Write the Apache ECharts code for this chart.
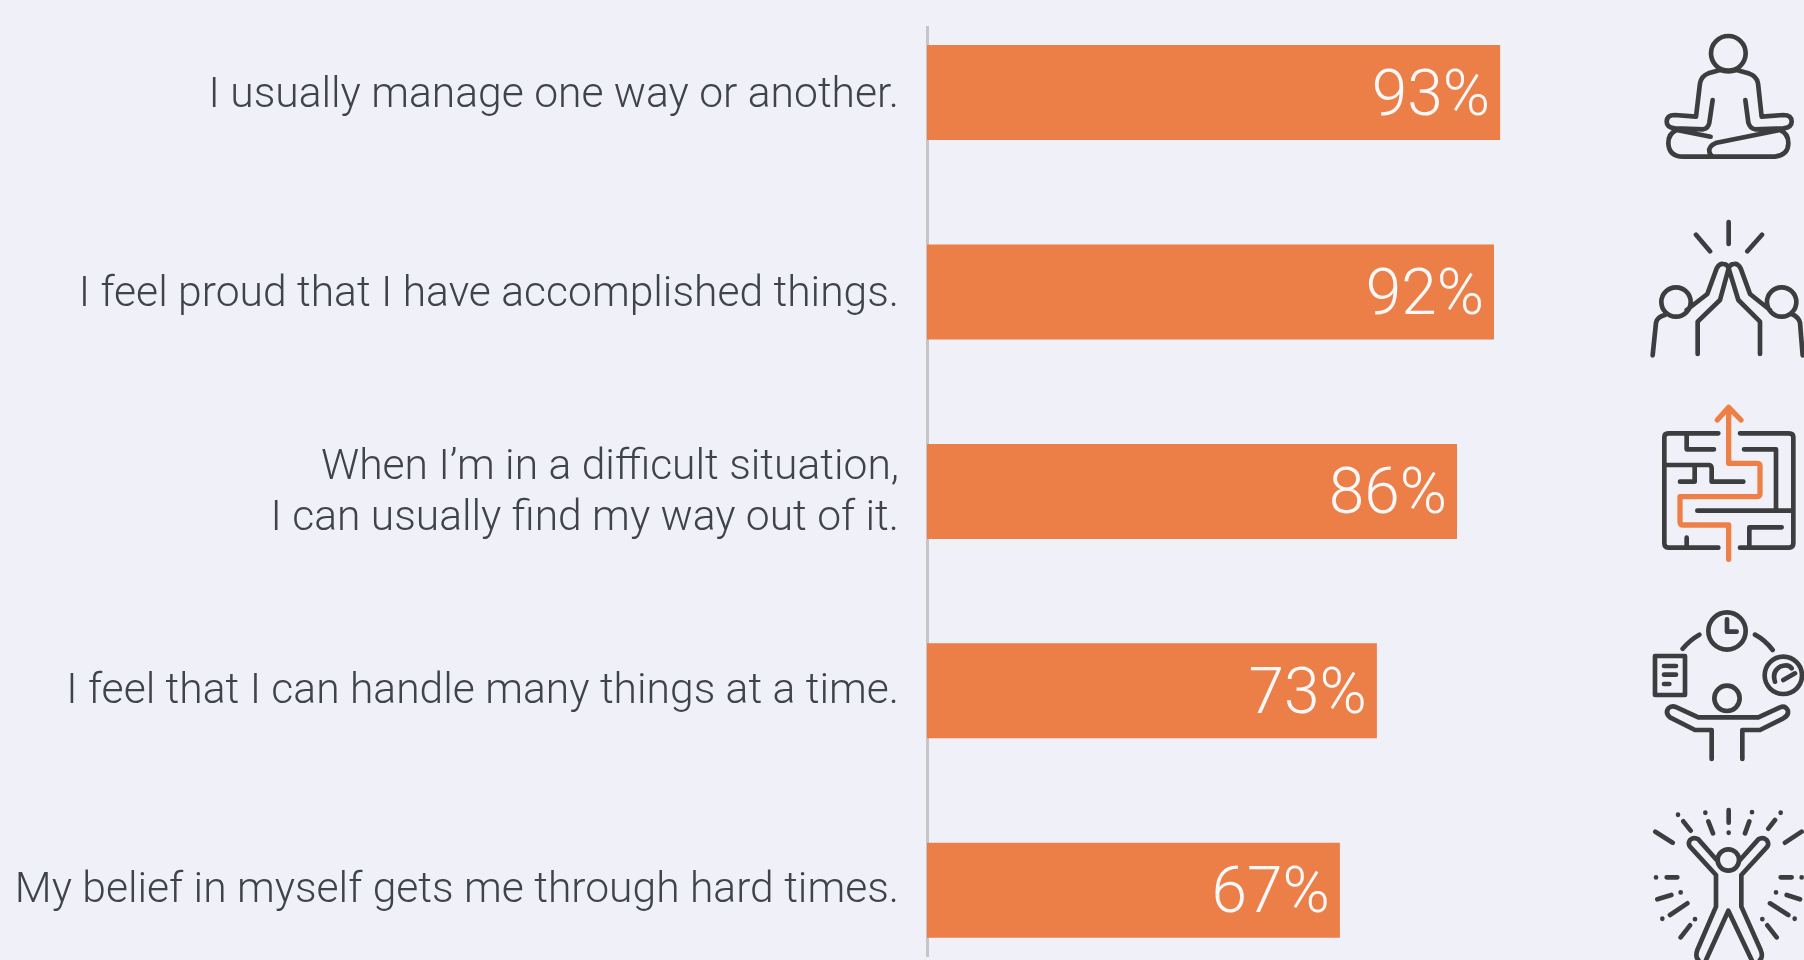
<!DOCTYPE html>
<html>
<head>
<meta charset="utf-8">
<style>
  html, body { margin: 0; padding: 0; background: #eff0f8; }
  #chart { width: 1804px; height: 960px; }
</style>
<script src="https://cdn.jsdelivr.net/npm/echarts@6/dist/echarts.min.js"></script>
</head>
<body>
<div id="chart"></div>
<script>
const categories = [
  'I usually manage one way or another.',
  'I feel proud that I have accomplished things.',
  'When I\u2019m in a difficult situation,\nI can usually find my way out of it.',
  'I feel that I can handle many things at a time.',
  'My belief in myself gets me through hard times.'
];
const values = [93, 92, 86, 73, 67];

const DARK = '#3c3d3f';
const ORANGE = '#ee8047';

// circle helper for the icon paths
const ring = (cx, cy, r) => `M${cx + r} ${cy}A${r} ${r} 0 1 1 ${cx - r} ${cy}A${r} ${r} 0 1 1 ${cx + r} ${cy}`;
const dot = (x, y) => `M${x} ${y}L${x} ${y + 0.5}`;

// icons: path, colour, left/top of the trace
const icons = [
  { x: 1620, y: 0, color: DARK, d: ring(325, 160, 52) +
    'M228 350L240 250Q244 228 265 220L300 210Q325 218 350 210L385 220Q410 228 414 250L425 350' +
    'M228 350L165 345Q140 345 140 365Q140 382 165 385L250 388Q265 385 268 368L278 300' +
    'M425 350L490 345Q515 345 515 365Q515 382 490 385L405 388Q390 385 385 368L376 300' +
    'M170 390Q145 400 145 430Q147 470 190 470L465 470Q505 465 505 430Q505 400 480 390L290 428Q265 438 268 455Q270 468 280 470' +
    'M170 390L272 410' },
  { x: 1620, y: 190, color: DARK, d: ring(168, 336, 44) + ring(485, 336, 44) +
    'M326 96L326 162M228 134L270 184M426 134L382 184' +
    'M98 496L108 398Q112 380 135 375' +
    'M200 360L262 312L290 235Q298 220 310 222Q322 222 326 235L300 330L233 395L233 492' +
    'M548 496L540 398Q535 380 515 372' +
    'M450 360L390 312L362 235Q354 220 342 222Q330 222 326 235L355 330L420 395L420 492' },
  { x: 1620, y: 380, color: DARK, d:
    'M295 160L145 160Q133 160 133 172L133 490Q133 503 145 503L295 503' +
    'M360 160L507 160Q520 160 520 172L520 490Q520 503 507 503L360 503' +
    'M200 165L200 208L282 208M372 208L468 208L468 390' +
    'M135 255L265 255Q275 255 275 265L275 305L370 305M224 258L224 305L180 305' +
    'M232 392L515 392M388 500L388 442L485 442M200 473L200 500' },
  { x: 1620, y: 380, color: ORANGE, d:
    'M326 538L326 435L190 435Q180 435 180 425L180 350L410 350Q420 350 420 340L420 258Q420 250 410 250L326 250L326 85' +
    'M292 120L326 82L363 120' },
  { x: 1620, y: 590, color: DARK, d: ring(321, 123, 56) + ring(490, 256, 56) + ring(321, 325, 38) +
    'M321 88L321 125L350 125M188 176Q210 150 238 134M405 134Q435 150 458 180' +
    'M105 198L195 198L195 315L105 315ZM132 228L168 228M132 254L168 254M132 282L148 282' +
    'M465 275Q455 245 480 230Q505 220 515 235M490 270L525 250' +
    'M275 507L275 420L225 420L150 382Q135 370 145 355Q155 345 170 352L235 382L415 382L480 352Q495 345 503 360Q508 375 490 385L420 420L367 420L367 507' },
  { x: 1620, y: 780, color: DARK, d: ring(325, 240, 32) +
    'M290 240L235 178Q222 170 210 180Q203 190 210 200L288 285L288 380L232 510Q225 530 235 540' +
    'M360 240L415 178Q428 170 440 180Q448 190 442 200L364 285L364 380L422 510Q430 530 420 540' +
    'M258 540L325 392L395 540' +
    'M326 90L326 128M265 124L279 160M388 124L375 160M190 124L212 152M465 120L445 146' +
    'M106 155L158 188M545 155L495 188M140 292L172 292M482 292L515 292M112 358L154 345M500 345L540 358' +
    'M150 405L202 370M450 370L505 405M182 472L210 436M470 472L442 436' +
    dot(326, 158) + dot(256, 98) + dot(396, 96) + dot(174, 104) + dot(482, 98) + dot(108, 292) + dot(545, 292) +
    dot(182, 337) + dot(468, 337) + dot(127, 416) + dot(524, 416) + dot(225, 417) + dot(427, 417) }
];

const iconElements = icons.map((icon, i) => {
  const name = 'icon' + i;
  echarts.graphic.registerShape(name, echarts.graphic.extendPath(icon.d, {}));
  return {
    type: name,
    x: icon.x,
    y: icon.y,
    scaleX: 1 / 3,
    scaleY: 1 / 3,
    style: { fill: 'none', stroke: icon.color, lineWidth: icon.color === ORANGE ? 16 : 14, lineCap: 'round', lineJoin: 'round' }
  };
});

const chart = echarts.init(document.getElementById('chart'));
chart.setOption({
  backgroundColor: '#eff0f8',
  animation: false,
  // first and last category sit on the grid edges; the second grid only carries the text labels
  grid: [
    { left: 927, width: 616.3, top: 92.5, height: 797.8 },
    { left: 927, width: 616.3, top: 96, height: 795.5 }
  ],
  xAxis: [
    { type: 'value', min: 0, max: 100, show: false },
    { type: 'value', min: 0, max: 100, show: false, gridIndex: 1 }
  ],
  yAxis: [
    {
      type: 'category',
      inverse: true,
      boundaryGap: false,
      data: categories,
      axisTick: { show: false },
      axisLine: { show: false },
      axisLabel: { show: false }
    },
    {
      type: 'category',
      gridIndex: 1,
      inverse: true,
      boundaryGap: false,
      data: categories,
      axisTick: { show: false },
      axisLine: { show: false },
      axisLabel: {
        margin: 28,
        fontFamily: 'Roboto',
        fontWeight: 300,
        fontSize: 42.6,
        lineHeight: 51,
        color: '#3f4447',
        align: 'right'
      }
    }
  ],
  graphic: [
    // the axis line runs past the first and last bar
    { type: 'rect', x: 926, y: 26, shape: { width: 3, height: 931 }, style: { fill: '#c6c6c6' } },
    ...iconElements
  ],
  series: [{
    type: 'bar',
    data: values,
    barWidth: 95,
    clip: false,
    itemStyle: { color: '#ec7e47' },
    label: {
      show: true,
      position: 'insideRight',
      distance: 10,
      offset: [0, 6],
      formatter: '{c}%',
      fontFamily: 'Roboto',
      fontWeight: 300,
      fontSize: 64,
      color: '#f8f8f8'
    }
  }]
});
window.addEventListener('resize', () => chart.resize());
</script>
</body>
</html>
